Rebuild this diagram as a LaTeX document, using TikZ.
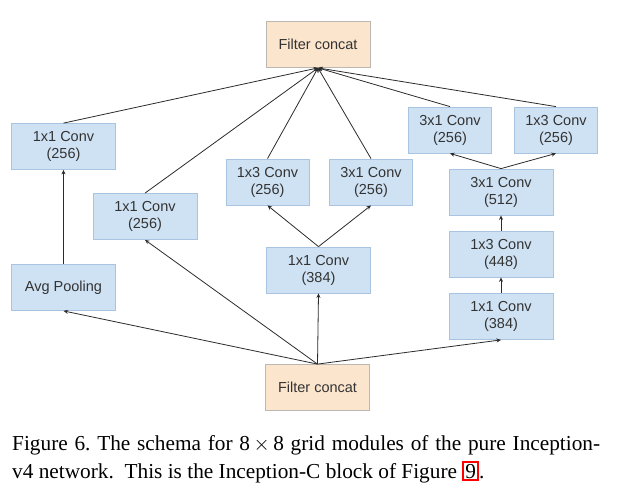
\documentclass[tikz,border=0pt]{standalone}
\usepackage{fontspec}
\setmainfont{Liberation Serif}
\newfontfamily\boxfont{Liberation Sans}
\usetikzlibrary{arrows.meta}

\definecolor{convfill}{HTML}{CFE2F3}
\definecolor{convline}{HTML}{A9C4E0}
\definecolor{catfill}{HTML}{FCE5CD}
\definecolor{catline}{HTML}{BDB7B2}
\definecolor{linkgray}{HTML}{2B2B2B}

\tikzset{
  convbox/.style={draw=convline, fill=convfill, line width=0.8pt,
    minimum width=104pt, minimum height=46pt, inner sep=0pt,
    align=center, font=\boxfont\fontsize{14.5}{17}\selectfont, text=black!80},
  narrowbox/.style={convbox, minimum width=83pt},
  catbox/.style={convbox, draw=catline, fill=catfill},
  link/.style={draw=linkgray, line width=0.8pt,
    -{Stealth[length=4.5pt,width=4pt]}},
  captext/.style={anchor=base west, inner sep=0pt,
    font=\fontsize{21.3}{25}\selectfont}
}

\begin{document}
\begin{tikzpicture}[x=1pt, y=-1pt]

\useasboundingbox (0,0) rectangle (621,493);

% Define boxes
\node[catbox] (catout) at (318,44.5) {Filter concat};
\node[catbox] (catin) at (317.5,387.5) {Filter concat};

\node[convbox] (poolconv) at (63.5,146.5) {1x1 Conv\\(256)};
\node[convbox] (pool) at (63.5,287.5) {Avg Pooling};

\node[convbox] (oneconv) at (145,216.5) {1x1 Conv\\(256)};

\node[convbox] (midA) at (318.5,270) {1x1 Conv\\(384)};
\node[narrowbox] (midB) at (267.5,182) {1x3 Conv\\(256)};
\node[narrowbox] (midC) at (371,182) {3x1 Conv\\(256)};

\node[convbox] (rightA) at (501,316.5) {1x1 Conv\\(384)};
\node[convbox] (rightB) at (501,254) {1x3 Conv\\(448)};
\node[convbox] (rightC) at (501,192) {3x1 Conv\\(512)};
\node[narrowbox] (rightD) at (450,130) {3x1 Conv\\(256)};
\node[narrowbox] (rightE) at (556,130) {1x3 Conv\\(256)};

% Draw links from the input concat
\draw[link] (catin.north) -- (pool.south);
\draw[link] (catin.north) -- (oneconv.south);
\draw[link] (catin.north) -- (midA.south);
\draw[link] (catin.north) -- (rightA.south);

% Draw the branches
\draw[link] (pool) -- (poolconv);
\draw[link] (midA.north) -- (midB.south);
\draw[link] (midA.north) -- (midC.south);
\draw[link] (rightA) -- (rightB);
\draw[link] (rightB) -- (rightC);
\draw[link] (rightC.north) -- (rightD.south);
\draw[link] (rightC.north) -- (rightE.south);

% Draw links into the output concat
\draw[link] (poolconv.north) -- (catout.south);
\draw[link] (oneconv.north) -- (catout.south);
\draw[link] (midB.north) -- (catout.south);
\draw[link] (midC.north) -- (catout.south);
\draw[link] (rightD.north) -- (catout.south);
\draw[link] (rightE.north) -- (catout.south);

% Caption
\setlength{\fboxsep}{1.2pt}
\setlength{\fboxrule}{1.8pt}
\node[captext] (capone) at (12,450)
  {\makebox[588pt][s]{Figure 6.\ The schema for 8{\,}$\times${\,}8 grid modules of the pure Inception-}};
\node[captext] (captwo) at (12,478)
  {v4 network.\ \ This is the Inception-C block of Figure \fcolorbox{red}{white}{9}.};

\end{tikzpicture}
\end{document}
